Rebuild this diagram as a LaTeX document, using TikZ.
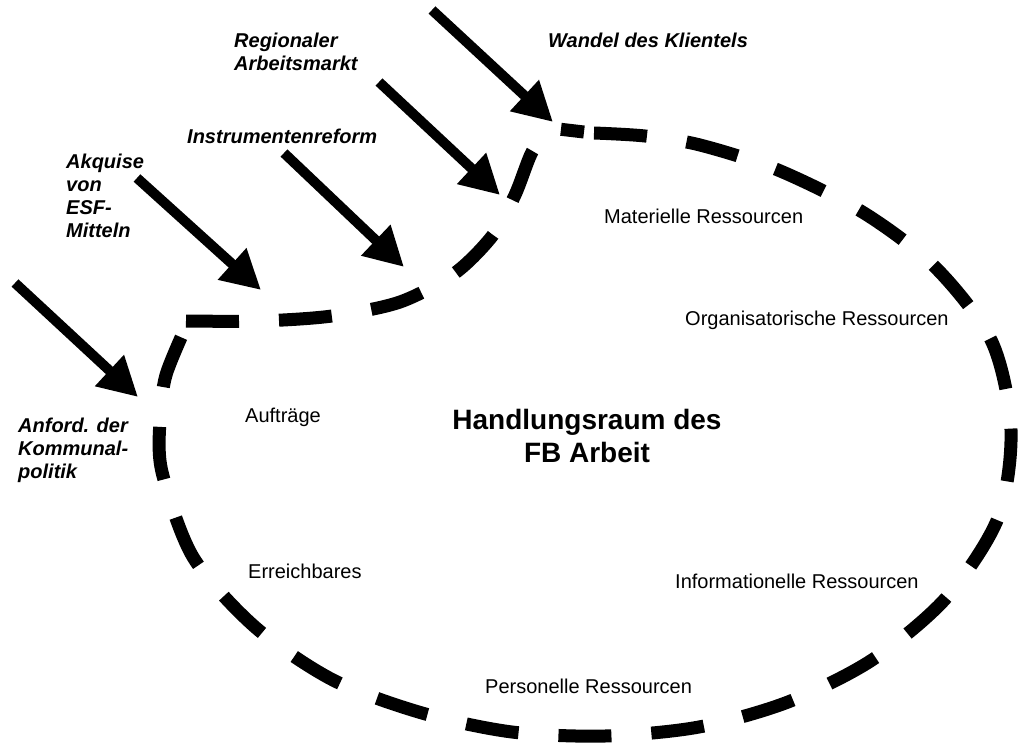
\documentclass[tikz,border=0pt]{standalone}
\usepackage{fontspec}
\setmainfont{Liberation Sans}
\usetikzlibrary{arrows.meta}
\begin{document}
\begin{tikzpicture}[x=1pt,y=-1pt,
  % multi-line labels are anchored at the baseline of their last line
  lbl/.style={inner sep=0pt, anchor=base west, align=left,
              font=\fontsize{20}{23}\selectfont},
  infl/.style={lbl, font=\fontsize{20}{23}\selectfont\bfseries\itshape},
  titlelbl/.style={inner sep=0pt, anchor=base, align=center,
              font=\fontsize{28}{32.5}\selectfont\bfseries},
  force/.style={line width=10pt, -{Triangle[length=39pt,width=40pt]}},
  border/.style={line width=13pt, dash pattern=on 53pt off 40pt}]
\useasboundingbox (0,0) rectangle (1020,742);

% dashed boundary of the scope of action: outer arc, clockwise from the top
\draw[border]
  plot[smooth] coordinates {(594,133) (645,136) (700,145) (778,170) (864,213)
    (936,268) (992,342) (1011,430) (998,518) (946,598) (872,660) (788,702)
    (699,727) (605,736) (512,732) (422,713) (333,680) (255,627) (193,557)
    (162,472) (160,420) (166,375) (188,322)};
% inner bay, from the left corner back up to the top
\draw[border]
  plot[smooth] coordinates {(186,321) (260,321) (332,316) (400,302)
    (455,273) (493,235) (515,195) (532,152) (550,128)}
  -- (584,132);

% external influences
\node[infl] (wandel) at (548,47) {Wandel des Klientels};
\node[infl] (regio) at (234,70) {Regionaler\\Arbeitsmarkt};
\node[infl] (instr) at (187,143) {Instrumentenreform};
\node[infl] (esf) at (66,237) {Akquise\\von\\ESF-\\Mitteln};
\node[infl] (kommunal) at (18,478) {Anford. der\\Kommunal-\\politik};

% inner labels
\node[titlelbl] (title) at (587,462) {Handlungsraum des\\FB Arbeit};
\node[lbl] (auftr) at (245,422) {Aufträge};
\node[lbl] (erreich) at (248,578) {Erreichbares};
\node[lbl] (mat) at (604,223) {Materielle Ressourcen};
\node[lbl] (org) at (685,325) {Organisatorische Ressourcen};
\node[lbl] (info) at (675,588) {Informationelle Ressourcen};
\node[lbl] (pers) at (485,693) {Personelle Ressourcen};

% arrow ends
\coordinate (t1) at (432,10);   \coordinate (h1) at (553,122);
\coordinate (t2) at (379,82);   \coordinate (h2) at (500,195);
\coordinate (t3) at (284,153);  \coordinate (h3) at (404,267);
\coordinate (t4) at (137,178);  \coordinate (h4) at (261,290);
\coordinate (t5) at (15,283);   \coordinate (h5) at (138,397);

\draw[force] (t1) -- (h1);
\draw[force] (t2) -- (h2);
\draw[force] (t3) -- (h3);
\draw[force] (t4) -- (h4);
\draw[force] (t5) -- (h5);
\end{tikzpicture}
\end{document}
